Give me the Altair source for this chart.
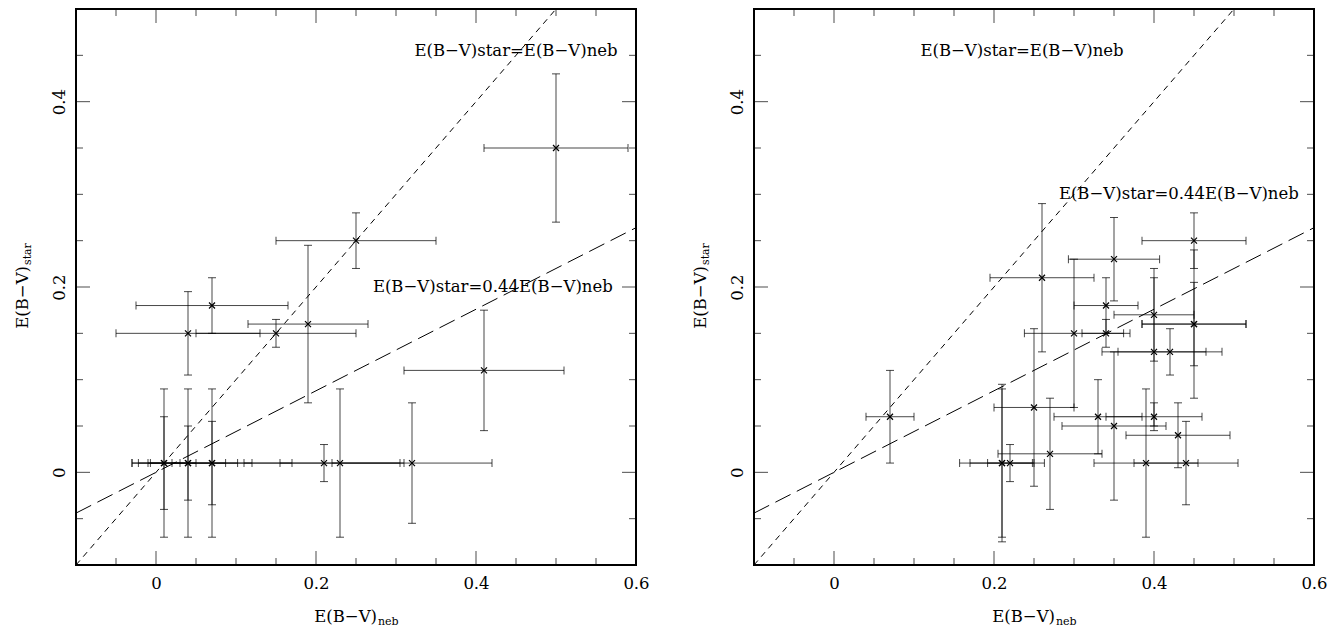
import altair as alt
import pandas as pd

# ---------------- data ----------------
# left panel
L_x    = [0.50, 0.25, 0.07, 0.19, 0.04, 0.15, 0.41, 0.01, 0.01, 0.04, 0.04, 0.07, 0.07, 0.21, 0.23, 0.32]
L_y    = [0.35, 0.25, 0.18, 0.16, 0.15, 0.15, 0.11, 0.01, 0.01, 0.01, 0.01, 0.01, 0.01, 0.01, 0.01, 0.01]
L_xerr = [0.09, 0.10, 0.095, 0.075, 0.09, 0.10, 0.10, 0.04, 0.02, 0.062, 0.047, 0.10, 0.05, 0.10, 0.075, 0.10]
L_yerr = [0.08, 0.03, 0.03, 0.085, 0.045, 0.015, 0.065, 0.08, 0.05, 0.08, 0.04, 0.08, 0.045, 0.02, 0.08, 0.065]

# right panel
R_x    = [0.07, 0.26, 0.30, 0.25, 0.27, 0.21, 0.21, 0.22, 0.35, 0.45, 0.45, 0.45, 0.34, 0.34,
          0.40, 0.40, 0.42, 0.40, 0.33, 0.35, 0.43, 0.39, 0.44]
R_y    = [0.06, 0.21, 0.15, 0.07, 0.02, 0.01, 0.01, 0.01, 0.23, 0.25, 0.16, 0.16, 0.18, 0.15,
          0.17, 0.13, 0.13, 0.06, 0.06, 0.05, 0.04, 0.01, 0.01]
R_xerr = [0.03, 0.065, 0.062, 0.05, 0.065, 0.053, 0.04, 0.028, 0.057, 0.065, 0.065, 0.065, 0.04, 0.03,
          0.05, 0.065, 0.065, 0.06, 0.055, 0.065, 0.065, 0.065, 0.065]
R_yerr = [0.05, 0.08, 0.08, 0.085, 0.06, 0.085, 0.08, 0.02, 0.045, 0.03, 0.08, 0.045, 0.03, 0.015,
          0.05, 0.08, 0.025, 0.015, 0.04, 0.08, 0.035, 0.08, 0.045]

# relations drawn as lines
line_slopes = [1.0, 0.44]
line_dash   = ["short", "long"]
line_x      = [-0.1, 0.6]

# annotations: (x of right end, y, text)
L_ann_x = [0.577, 0.571]
L_ann_y = [0.455, 0.200]
R_ann_x = [0.362, 0.581]
R_ann_y = [0.455, 0.300]
ann_text = ["E(B\u2212V)star=E(B\u2212V)neb", "E(B\u2212V)star=0.44E(B\u2212V)neb"]

x_labels = [0, 0.2, 0.4, 0.6]
y_labels = [0, 0.2, 0.4]
x_major = [0.0, 0.2, 0.4]
x_minor = [-0.05, 0.05, 0.1, 0.15, 0.25, 0.3, 0.35, 0.45, 0.5, 0.55]
y_major = [0.0, 0.2, 0.4]
y_minor = [-0.05, 0.05, 0.1, 0.15, 0.25, 0.3, 0.35, 0.45]

# ---------------- style ----------------
W, H = 560, 556
FONT = "DejaVu Serif"
FS = 16.5
SUB = 11
MAJ, MIN = 14, 7
XMIN, XMAX, YMIN, YMAX = -0.1, 0.6, -0.1, 0.5

xs = alt.Scale(domain=[XMIN, XMAX], nice=False, zero=False)
ys = alt.Scale(domain=[YMIN, YMAX], nice=False, zero=False)

x_axis = alt.Axis(values=x_labels, format="~g", ticks=False, domain=False, grid=False, title=None,
                  labelFont=FONT, labelFontSize=FS, labelColor="black", labelPadding=10,
                  labelFlush=False, labelOverlap=False)
y_axis = alt.Axis(values=y_labels, format="~g", ticks=False, domain=False, grid=False, title=None,
                  labelFont=FONT, labelFontSize=FS, labelColor="black", labelPadding=9,
                  labelAngle=270, labelAlign="center", labelBaseline="bottom",
                  labelFlush=False, labelOverlap=False)


def X(f):
    return alt.X(f, type="quantitative", scale=xs, axis=x_axis)


def Y(f):
    return alt.Y(f, type="quantitative", scale=ys, axis=y_axis)


def frame_ticks():
    layers = []
    for vals, ln in [(x_major, MAJ), (x_minor, MIN)]:
        d = pd.DataFrame({"v": vals})
        for yd in [YMIN, YMAX]:
            layers.append(alt.Chart(d).mark_tick(color="black", thickness=1, size=2 * ln,
                                                 orient="vertical", clip=True)
                          .encode(x=X("v"), y=alt.YDatum(yd, type="quantitative", scale=ys, axis=y_axis)))
    for vals, ln in [(y_major, MAJ), (y_minor, MIN)]:
        d = pd.DataFrame({"v": vals})
        for xd in [XMIN, XMAX]:
            layers.append(alt.Chart(d).mark_tick(color="black", thickness=1, size=2 * ln,
                                                 orient="horizontal", clip=True)
                          .encode(y=Y("v"), x=alt.XDatum(xd, type="quantitative", scale=xs, axis=x_axis)))
    return layers


def panel(px, py, pxe, pye, ax, ay):
    df = pd.DataFrame({"x": px, "y": py, "xe": pxe, "ye": pye})
    base = alt.Chart(df).transform_calculate(
        xlo="datum.x - datum.xe", xhi="datum.x + datum.xe",
        ylo="datum.y - datum.ye", yhi="datum.y + datum.ye")
    op = 0.72
    xbar = base.mark_rule(color="black", strokeWidth=1, opacity=op).encode(x=X("xlo"), x2="xhi:Q", y=Y("y"))
    ybar = base.mark_rule(color="black", strokeWidth=1, opacity=op).encode(x=X("x"), y=Y("ylo"), y2="yhi:Q")
    caps = []
    for f in ["xlo", "xhi"]:
        caps.append(base.mark_tick(color="black", thickness=1, size=8, orient="vertical", opacity=op)
                    .encode(x=X(f), y=Y("y")))
    for f in ["ylo", "yhi"]:
        caps.append(base.mark_tick(color="black", thickness=1, size=8, orient="horizontal", opacity=op)
                    .encode(x=X("x"), y=Y(f)))
    pts = base.mark_point(shape="M-1,-1L1,1M1,-1L-1,1", filled=False, color="black",
                          strokeWidth=1.2, size=36, opacity=1).encode(x=X("x"), y=Y("y"))

    lines = []
    for s, dsh in zip(line_slopes, line_dash):
        ld = pd.DataFrame({"lx": line_x, "s": [s] * len(line_x)})
        lines.append(alt.Chart(ld).transform_calculate(ly="datum.lx * datum.s")
                     .mark_line(color="black", strokeWidth=1, clip=True,
                                strokeDash=[6, 5] if dsh == "short" else [17, 7])
                     .encode(x=X("lx"), y=Y("ly")))

    adf = pd.DataFrame({"ax": ax, "ay": ay, "t": ann_text})
    ann = alt.Chart(adf).mark_text(font=FONT, fontSize=FS, align="right", baseline="middle",
                                   color="black").encode(x=X("ax"), y=Y("ay"), text="t:N")

    # axis titles with subscripts
    tdf = pd.DataFrame({"m": ["E(B\u2212V)"]})
    xt_main = alt.Chart(tdf).mark_text(font=FONT, fontSize=FS, align="right", baseline="alphabetic",
                                       color="black").encode(
        x=alt.value(W / 2 + 21), y=alt.value(H + 57), text="m:N")
    xt_sub = alt.Chart(pd.DataFrame({"s": ["neb"]})).mark_text(
        font=FONT, fontSize=SUB, align="left", baseline="alphabetic", color="black").encode(
        x=alt.value(W / 2 + 22), y=alt.value(H + 60), text="s:N")
    yt_main = alt.Chart(tdf).mark_text(font=FONT, fontSize=FS, align="right", baseline="alphabetic",
                                       angle=270, color="black").encode(
        x=alt.value(-48), y=alt.value(H / 2 - 21), text="m:N")
    yt_sub = alt.Chart(pd.DataFrame({"s": ["star"]})).mark_text(
        font=FONT, fontSize=SUB, align="left", baseline="alphabetic", angle=270, color="black").encode(
        x=alt.value(-45), y=alt.value(H / 2 - 22), text="s:N")

    return alt.layer(*frame_ticks(), *lines, xbar, ybar, *caps, pts, ann,
                     xt_main, xt_sub, yt_main, yt_sub).properties(width=W, height=H)


left = panel(L_x, L_y, L_xerr, L_yerr, L_ann_x, L_ann_y)
right = panel(R_x, R_y, R_xerr, R_yerr, R_ann_x, R_ann_y)

chart = alt.hconcat(left, right, spacing=41).properties(
    padding={"left": 6, "top": 0, "right": 0, "bottom": 0}, background="white"
).configure_view(stroke="black", strokeWidth=2)

chart.save("out.html", embed_options={"renderer": "svg", "actions": False})
